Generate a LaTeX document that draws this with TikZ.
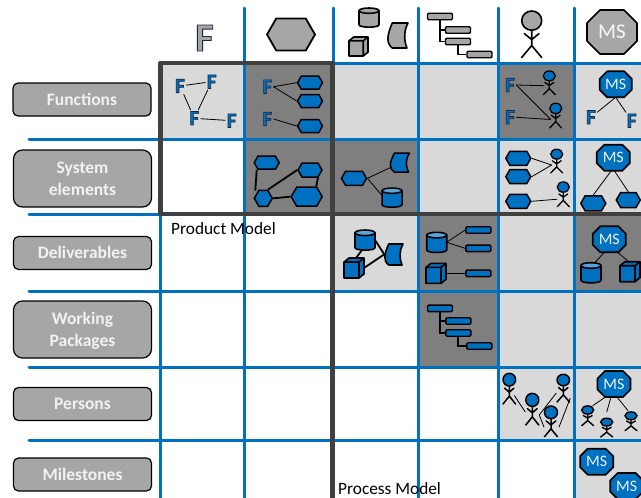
\documentclass[tikz,border=0pt]{standalone}
\usepackage{fontspec}
\setmainfont{Carlito}
\usetikzlibrary{shapes.symbols,calc}
\definecolor{lblue}{HTML}{0070C0}
\definecolor{lendb}{HTML}{5AA5DC}
\definecolor{lgrayc}{HTML}{D9D9D9}
\definecolor{dgrayc}{HTML}{7F7F7F}
\definecolor{mgray}{HTML}{A6A6A6}
\definecolor{frame}{HTML}{404040}
\newcommand{\fsz}[1]{\fontsize{#1}{#1}\selectfont}
\newcommand{\outlined}[2]{\special{pdf:code 2 Tr #1 w 0.1 0.15 0.25 RG}#2\special{pdf:code 0 Tr}}
\tikzset{
  gridline/.style={draw=lblue,line width=3pt,line cap=round},
  framel/.style={draw=frame,line width=4.5pt,line cap=butt},
  lightc/.style={fill=lgrayc,draw=none},
  darkc/.style={fill=dgrayc,draw=none},
  rowlabel/.style={draw=black,line width=1.2pt,fill=mgray,rounded corners=5pt,minimum width=138pt,text=white!95!black,align=center,font=\fsz{17.5}\bfseries,inner sep=0pt,text width=130pt},
  rowtall/.style={rowlabel,rounded corners=9pt,minimum height=57pt,text height=14pt,text depth=24pt},
  rowshort/.style={rowlabel,minimum height=33pt,text height=14pt,text depth=3pt},
  hexi/.style={signal,signal to=east and west,signal pointer angle=120,draw=black,line width=1.5pt,fill=lblue,inner sep=0pt},
  hexg/.style={hexi,fill=mgray,line width=1.8pt},
  bari/.style={draw=black,line width=1.4pt,fill=lblue,rounded corners=1.2pt,minimum width=25pt,minimum height=6.5pt,inner sep=0pt},
  barg/.style={bari,fill=mgray},
  fmark/.style={text=lblue,font=\fsz{21}\bfseries,inner sep=1.2pt},
  thinc/.style={draw=black,line width=0.8pt},
  thickc/.style={draw=black,line width=1.8pt},
  caption/.style={font=\fsz{17.3},inner sep=0pt,anchor=west,text=black},
  anchorbox/.style={draw=none,fill=none,inner sep=0pt,outer sep=0pt},
}
% name, x, y, width, height, chamfer, fill, font size
\newcommand{\iconOcta}[8]{
  \begin{scope}[shift={(#2,#3)}]
    \path[draw=black,line width=1.7pt,fill=#7,line join=round] (-#4/2+#6,-#5/2) -- (#4/2-#6,-#5/2) -- (#4/2,-#5/2+#6) -- (#4/2,#5/2-#6) -- (#4/2-#6,#5/2) -- (-#4/2+#6,#5/2) -- (-#4/2,#5/2-#6) -- (-#4/2,-#5/2+#6) -- cycle;
    \node[anchorbox,minimum width=#4pt,minimum height=#5pt,text=white!92!#7,font=\fsz{#8}] (#1) at (0,0) {MS};
  \end{scope}}
% name, x-centre, y-centre, width, height, fill, end fill, line width
\newcommand{\iconCyl}[8]{
  \begin{scope}[shift={(#2,#3)},xscale=#4,yscale=#5]
    \node[anchorbox,minimum width=#4pt,minimum height=#5pt] (#1) at (0,0) {};
    \path[draw=black,line width=#8pt,fill=#6] (-.5,-.38) -- (-.5,.38) .. controls (-.5,.55) and (.5,.55) .. (.5,.38) -- (.5,-.38);
    \path[draw=black,line width=#8pt,fill=#7] (0,-.36) ellipse (.5 and .14);
  \end{scope}}
% name, x-centre, y-centre, size, fill, line width
\newcommand{\iconCube}[6]{
  \begin{scope}[shift={(#2,#3)},scale=#4]
    \node[anchorbox,minimum width=#4pt,minimum height=#4pt] (#1) at (0,0) {};
    \path[draw=black,line width=#6pt,fill=#5,line join=round] (-.5,-.3) -- (-.25,-.5) -- (.5,-.5) -- (.5,.3) -- (.25,.5) -- (-.5,.5) -- cycle;
    \path[draw=black,line width=#6pt,line join=round] (-.5,-.3) -- (.25,-.3) -- (.25,.5) (.25,-.3) -- (.5,-.5);
  \end{scope}}
% name, x-centre, y-centre, width, height, fill, line width
\newcommand{\iconFlag}[7]{
  \begin{scope}[shift={(#2,#3)},xscale=#4,yscale=#5]
    \node[anchorbox,minimum width=#4pt,minimum height=#5pt] (#1) at (0,0) {};
    \path[draw=black,line width=#7pt,fill=#6,line join=round] (-.25,-.5) -- (.5,-.5) .. controls (.3,-.2) and (.3,.2) .. (.45,.5) -- (-.25,.5) .. controls (-.55,.3) and (-.5,0) .. (-.25,-.5) -- cycle;
  \end{scope}}
% name, x-centre, top, head width, height, fill, line width
\newcommand{\iconPerson}[7]{
  \begin{scope}[shift={(#2,#3)},xscale=#4,yscale=#5]
    \node[anchorbox,minimum width=#4pt,minimum height=#5pt] (#1) at (0,.5) {};
    \path[draw=black,line width=#7pt,line cap=round,line join=round] (0,.42) -- (0,.745) (-.5,1) -- (0,.745) -- (.5,1) (-.37,.49) -- (0,.62) -- (.37,.49);
    \path[draw=black,line width=#7pt,fill=#6] (0,.215) ellipse (.5 and .205);
  \end{scope}}
\begin{document}
\begin{tikzpicture}[x=1pt,y=-1pt]
\useasboundingbox (0,0) rectangle (641,498);
\fill[white] (0,0) rectangle (641,498);
% cells
\path[lightc] (160,63) rectangle (244,139);
\path[darkc] (244,63) rectangle (333,139);
\path[lightc] (333,63) rectangle (498,139);
\path[darkc] (498,63) rectangle (574,139);
\path[lightc] (574,63) rectangle (641,139);
\path[darkc] (244,139) rectangle (418,214);
\path[lightc] (418,139) rectangle (641,214);
\path[lightc] (333,214) rectangle (418,291);
\path[darkc] (418,214) rectangle (498,291);
\path[lightc] (498,214) rectangle (574,291);
\path[darkc] (574,214) rectangle (641,291);
\path[darkc] (418,291) rectangle (498,367);
\path[lightc] (498,291) rectangle (641,367);
\path[lightc] (498,367) rectangle (641,440);
\path[lightc] (574,440) rectangle (641,498);
% grid lines
\coordinate (gl0) at (160,214); \coordinate (gb0) at (160,500);
\coordinate (g1t) at (244,8); \coordinate (g1b) at (244,500);
\coordinate (g2t) at (333,8); \coordinate (g2b) at (333,500);
\coordinate (g3t) at (418,8); \coordinate (g3b) at (418,500);
\coordinate (g4t) at (498,8); \coordinate (g4b) at (498,500);
\coordinate (g5t) at (574,8); \coordinate (g5b) at (574,500);
\coordinate (h0l) at (333,63); \coordinate (h0r) at (644,63);
\coordinate (h1l) at (29,139); \coordinate (h1r) at (644,139);
\coordinate (h2l) at (29,214); \coordinate (h2r) at (644,214);
\coordinate (h3l) at (29,291); \coordinate (h3r) at (644,291);
\coordinate (h4l) at (29,367); \coordinate (h4r) at (644,367);
\coordinate (h5l) at (29,440); \coordinate (h5r) at (644,440);
\foreach \a/\b in {gl0/gb0,g1t/g1b,g2t/g2b,g3t/g3b,g4t/g4b,g5t/g5b,h0l/h0r,h1l/h1r,h2l/h2r,h3l/h3r,h4l/h4r,h5l/h5r}
  \draw[gridline] (\a) -- (\b);
% frames
\coordinate (fa) at (160.3,63); \coordinate (fb) at (332.5,214);
\draw[framel,line join=round] (fa) rectangle (fb);
\coordinate (fc) at (332.5,500); \coordinate (fd) at (644,214);
\draw[framel] (fc) -- (fb) -- (fd);
% row labels
\node[rowshort] (rfun) at (82,99.5) {Functions};
\node[rowtall] (rsys) at (82.5,178.5) {System\\[4pt]elements};
\node[rowshort] (rdel) at (82.5,253) {Deliverables};
\node[rowtall] (rwork) at (82.5,329.5) {Working\\[4pt]Packages};
\node[rowshort] (rper) at (82.5,404) {Persons};
\node[rowshort] (rmil) at (82.5,474.5) {Milestones};
% captions
\node[caption] (cprod) at (171,229) {Product Model};
\node[caption] (cproc) at (338,489) {Process Model};
% header
\node[text=mgray,font=\fsz{40}\bfseries,inner sep=0pt] (hF) at (204.5,38) {\outlined{0.9}{F}};
\node[hexg,minimum width=48pt,minimum height=32pt] (hHex) at (291,34.5) {};
\iconCyl{hCyl}{369}{17.5}{20}{19}{mgray}{mgray}{1.6}
\iconCube{hCube}{358.5}{46.5}{19}{mgray}{1.6}
\iconFlag{hFlag}{397.5}{35.5}{21}{25}{mgray}{1.6}
\node[barg] (hb1) at (440,16.5) {};
\node[barg] (hb2) at (458,30) {};
\node[barg] (hb3) at (458,41.5) {};
\node[barg] (hb4) at (479.5,54.5) {};
\draw[thickc] (hb1.south) |- (hb3.west);
\draw[thickc] (hb1.south) |- (hb2.west);
\draw[thickc] (hb3.south) |- (hb4.west);
\iconPerson{hPer}{531.7}{10.5}{20}{47}{mgray}{1.6}
\iconOcta{hMS}{612}{32}{50}{44}{13}{mgray}{21}
% cell 1,1
\node[fmark] (a1) at (180,86) {\outlined{0.7}{F}};
\node[fmark] (a2) at (211.7,81.7) {\outlined{0.7}{F}};
\node[fmark] (a3) at (194.3,118.3) {\outlined{0.7}{F}};
\node[fmark] (a4) at (231.7,120.7) {\outlined{0.7}{F}};
\draw[thinc] (a1) -- (a2); \draw[thinc] (a1) -- (a3); \draw[thinc] (a2) -- (a3); \draw[thinc] (a3) -- (a4);
% cell 1,2
\node[fmark] (b1) at (267.3,86.7) {\outlined{0.7}{F}};
\node[fmark] (b2) at (267.3,119) {\outlined{0.7}{F}};
\node[hexi,minimum width=25pt,minimum height=13pt] (bh1) at (310,82.7) {};
\node[hexi,minimum width=25pt,minimum height=13pt] (bh2) at (310,101) {};
\node[hexi,minimum width=25pt,minimum height=13pt] (bh3) at (310,126) {};
\draw[thinc] (b1.east) -- (bh1.west); \draw[thinc] (b1.east) -- (bh2.west); \draw[thinc] (b2.east) -- (bh3.west);
% cell 2,2
\node[hexi,minimum width=25pt,minimum height=13pt] (c1) at (266.7,162.7) {};
\node[hexi,minimum width=24pt,minimum height=14pt] (c2) at (310,170) {};
\node[hexi,minimum width=18pt,minimum height=16pt] (c3) at (263.3,198.3) {};
\node[hexi,minimum width=31pt,minimum height=19pt] (c4) at (306.7,196.7) {};
\draw[thickc] ($(c1.south)+(-10,0)$) -- ($(c3.north)+(-8,1)$);
\draw[thickc] (c3.north east) -- (c2.west);
\draw[thickc] (c3.east) -- (c4.west);
\draw[thickc] ($(c2.south)+(8,0)$) -- ($(c4.north)+(9.5,0)$);
% cell 2,3
\node[hexi,minimum width=25pt,minimum height=14pt] (d1) at (354,178.3) {};
\iconFlag{d2}{399.5}{162.5}{20}{19}{lblue}{1.5}
\iconCyl{d3}{392}{197.5}{20}{19}{lblue}{lendb}{1.5}
\draw[thinc] (d1.east) -- ($(d2.west)+(1,5)$); \draw[thinc] (d1.east) -- ($(d3.west)+(0,-2)$);
% cell 1,5
\node[fmark] (e1) at (510,85) {\outlined{0.7}{F}};
\node[fmark] (e2) at (510,117.3) {\outlined{0.7}{F}};
\iconPerson{e3}{549.3}{70.7}{12}{24}{lblue}{1.3}
\iconPerson{e4}{555.7}{103}{12}{25}{lblue}{1.3}
\draw[thinc] (e1.east) -- ($(e3)+(-5,3)$);
\draw[thinc] (e1.east) -- ($(e4)+(-5,4)$);
\draw[thinc] (e2.east) -- ($(e4)+(-5,4)$);
% cell 1,6
\iconOcta{f1}{615.7}{84.3}{32}{26}{7.5}{lblue}{16}
\node[fmark] (f2) at (591,117.3) {\outlined{0.7}{F}};
\node[fmark] (f3) at (631.7,120.7) {\outlined{0.7}{F}};
\draw[thinc] (f1.south) -- (f2); \draw[thinc] (f1.south) -- (f3);
% cell 2,5
\node[hexi,minimum width=25pt,minimum height=14pt] (g1) at (518.3,158.3) {};
\node[hexi,minimum width=25pt,minimum height=14pt] (g2) at (518.3,176.7) {};
\node[hexi,minimum width=25pt,minimum height=14pt] (g3) at (518.3,201.3) {};
\iconPerson{g4}{556.7}{149}{12}{24}{lblue}{1.3}
\iconPerson{g5}{563.3}{181.7}{12}{25}{lblue}{1.3}
\draw[thinc] (g1.east) -- ($(g4)+(-5,4)$);
\draw[thinc] (g2.east) -- ($(g4)+(-5,4)$);
\draw[thinc] (g3.east) -- ($(g5)+(-6,5)$);
% cell 2,6
\iconOcta{k1}{613.3}{157.7}{33}{26}{7.5}{lblue}{16}
\node[hexi,minimum width=25pt,minimum height=15pt] (k2) at (593.3,203.3) {};
\node[hexi,minimum width=24pt,minimum height=15pt] (k3) at (628.3,200) {};
\draw[thinc] ($(k1.south)+(-2,0)$) -- (k2.north); \draw[thinc] ($(k1.south)+(1,0)$) -- (k3.north);
% cell 3,3
\iconCyl{m1}{365}{240}{20}{20}{lblue}{lendb}{1.6}
\iconCube{m2}{354}{268}{20}{lblue}{1.6}
\iconFlag{m3}{393.5}{254.5}{19}{21}{lblue}{1.6}
\draw[thickc] ($(m1.south)+(-3,0)$) -- ($(m2.north)+(2,0)$);
\draw[thickc] (m2.east) -- (m3.west);
\draw[thickc] (m1.east) -- ($(m3.west)+(1,1)$);
% cell 3,4
\iconCyl{n1}{436.7}{242.3}{20}{20}{lblue}{lendb}{1.6}
\iconCube{n2}{436}{273.3}{20}{lblue}{1.6}
\node[bari] (n3) at (478.3,230) {};
\node[bari] (n4) at (478.3,248.3) {};
\node[bari] (n5) at (478.3,273.3) {};
\draw[thinc] (n1.east) -- (n3.west); \draw[thinc] (n1.east) -- (n4.west); \draw[thinc] (n2.east) -- (n5.west);
% cell 3,6
\iconOcta{p1}{609.3}{239.3}{33}{26}{7.5}{lblue}{16}
\iconCyl{p2}{591}{272.7}{20}{20}{lblue}{lendb}{1.6}
\iconCube{p3}{630}{271.7}{20}{lblue}{1.6}
\draw[thinc] ($(p1.south)+(-4,-1)$) -- ($(p2.north)+(3,1)$);
\draw[thinc] ($(p1.south)+(7,-1)$) -- ($(p3.north)+(0,1)$);
% cell 4,4
\node[bari] (q1) at (440,308.3) {};
\node[bari] (q2) at (458.3,321) {};
\node[bari] (q3) at (458.3,333) {};
\node[bari] (q4) at (479.3,346) {};
\draw[thickc] (q1.south) |- (q3.west);
\draw[thickc] (q1.south) |- (q2.west);
\draw[thickc] (q3.south) |- (q4.west);
% cell 5,5
\iconPerson{r1}{509.3}{373}{12.5}{31}{lblue}{1.5}
\iconPerson{r2}{532.3}{393}{13}{32}{lblue}{1.5}
\iconPerson{r3}{551}{405.7}{13}{31}{lblue}{1.5}
\iconPerson{r4}{563.3}{374}{12.5}{28}{lblue}{1.5}
\draw[thinc] ($(r1)+(5,7)$) -- ($(r2)+(-7,3)$);
\draw[thinc] ($(r2)+(7,6)$) -- ($(r4)+(-7,5)$);
\draw[thinc] ($(r2)+(7,6)$) -- ($(r3)+(-7,6)$);
\draw[thinc] ($(r4)+(7,10)$) -- ($(r3)+(8,6)$);
% cell 5,6
\iconOcta{s1}{614}{384}{33}{26}{7.5}{lblue}{16}
\iconPerson{s2}{587.7}{405.7}{12}{20}{lblue}{1.4}
\iconPerson{s3}{606.7}{418}{12}{19}{lblue}{1.4}
\iconPerson{s4}{631}{411.7}{12}{19}{lblue}{1.4}
\draw[thinc] ($(s1.south)+(-7,-1)$) -- ($(s2.north)+(5,0)$);
\draw[thinc] ($(s1.south)+(-3,0)$) -- ($(s3.north)+(0,-6)$);
\draw[thinc] ($(s1.south)+(3,0)$) -- ($(s4.north)+(-3,-1)$);
% cell 6,6
\iconOcta{u1}{596.7}{461.7}{33}{26}{7.5}{lblue}{16}
\iconOcta{u2}{626.7}{486}{33}{26}{7.5}{lblue}{16}
\end{tikzpicture}
\end{document}
